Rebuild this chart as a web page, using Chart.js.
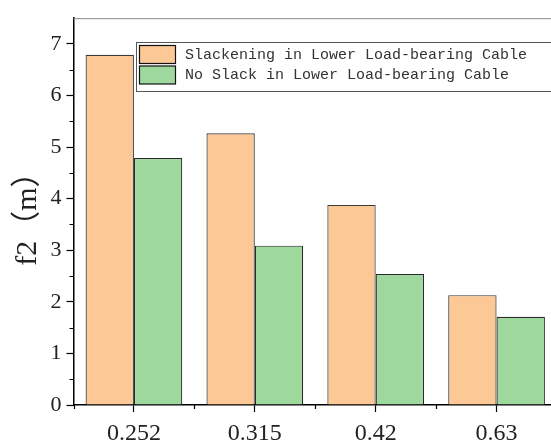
<!DOCTYPE html>
<html>
<head>
<meta charset="utf-8">
<script src="https://cdn.jsdelivr.net/npm/chart.js@4.4.0/dist/chart.umd.min.js"></script>
<style>
  html, body { margin: 0; padding: 0; background: #fff; overflow: hidden; }
  #wrap { width: 551px; height: 441px; overflow: hidden; }
</style>
</head>
<body>
<div id="wrap"><canvas id="myChart" width="557" height="441"></canvas></div>
<script>
const categories = ['0.252', '0.315', '0.42', '0.63'];
const slackValues = [6.79, 5.27, 3.88, 2.13];
const noSlackValues = [4.79, 3.09, 2.54, 1.71];
const seriesNames = ['Slackening in Lower Load-bearing Cable', 'No Slack in Lower Load-bearing Cable'];
const yTicks = [0, 1, 2, 3, 4, 5, 6, 7];

const serif = '"Liberation Serif", "Noto Sans CJK SC", serif';

// minor ticks, top frame line and the legend box inside the plot
const extras = {
  id: 'extras',
  afterDraw(chart) {
    const ctx = chart.ctx;
    const area = chart.chartArea;
    const x = chart.scales.x;
    const y = chart.scales.y;
    ctx.save();
    ctx.strokeStyle = '#000';
    ctx.lineWidth = 1.2;
    ctx.beginPath();
    for (let v = 0.5; v < 7.5; v += 1) {
      const py = Math.round(y.getPixelForValue(v)) + 0.5;
      ctx.moveTo(area.left - 4, py);
      ctx.lineTo(area.left, py);
    }
    for (let i = 0; i <= categories.length; i++) {
      const px = Math.round(x.getPixelForValue(i - 0.5)) + 0.5;
      ctx.moveTo(px, area.bottom);
      ctx.lineTo(px, area.bottom + 4);
    }
    ctx.stroke();

    ctx.strokeStyle = '#888';
    ctx.lineWidth = 1;
    ctx.beginPath();
    ctx.moveTo(area.left, area.top + 0.5);
    ctx.lineTo(area.right, area.top + 0.5);
    ctx.stroke();

    // legend
    const lx = 136.5, ly = 42.5;
    ctx.fillStyle = '#fff';
    ctx.fillRect(lx, ly, 430, 49);
    ctx.strokeStyle = '#555';
    ctx.strokeRect(lx, ly, 430, 49);
    chart.data.datasets.forEach((ds, i) => {
      const sy = 45.5 + i * 20.5;
      ctx.fillStyle = ds.backgroundColor;
      ctx.fillRect(139.5, sy, 36, 18);
      ctx.strokeStyle = '#111';
      ctx.lineWidth = 1.2;
      ctx.strokeRect(139.5, sy, 36, 18);
      ctx.fillStyle = '#333';
      ctx.font = '15px "Liberation Mono", monospace';
      ctx.textBaseline = 'middle';
      ctx.textAlign = 'left';
      ctx.fillText(ds.label, 185, sy + 9.5);
    });
    ctx.restore();
  }
};

new Chart(document.getElementById('myChart'), {
  type: 'bar',
  data: {
    labels: categories,
    datasets: [
      {
        label: seriesNames[0],
        data: slackValues,
        backgroundColor: '#FCC896',
        borderColor: '#3a3a3a',
        borderWidth: 1.2,
        borderSkipped: 'bottom'
      },
      {
        label: seriesNames[1],
        data: noSlackValues,
        backgroundColor: '#9FD89D',
        borderColor: '#2a2a2a',
        borderWidth: 1.2,
        borderSkipped: 'bottom'
      }
    ]
  },
  options: {
    responsive: false,
    animation: false,
    devicePixelRatio: 1,
    layout: { padding: { top: 15, right: 0, bottom: 0, left: 0 } },
    datasets: {
      bar: { barPercentage: 1.0, categoryPercentage: 0.8 }
    },
    plugins: {
      legend: { display: false },
      tooltip: { enabled: false }
    },
    scales: {
      x: {
        offset: true,
        grid: {
          offset: false,
          drawOnChartArea: false,
          drawTicks: true,
          tickLength: 7,
          tickColor: '#000',
          tickWidth: 1.2
        },
        border: { display: true, color: '#000', width: 1.5 },
        ticks: {
          color: '#222',
          padding: 7,
          maxRotation: 0,
          font: { family: serif, size: 24 }
        },
        afterFit(scale) { scale.height = 36; }
      },
      y: {
        min: 0,
        max: 7.5,
        ticks: {
          stepSize: 1,
          color: '#222',
          padding: 5,
          font: { family: serif, size: 22 }
        },
        afterBuildTicks(scale) {
          scale.ticks = yTicks.map(v => ({ value: v }));
        },
        grid: {
          drawOnChartArea: false,
          drawTicks: true,
          tickLength: 7,
          tickColor: '#000',
          tickWidth: 1.2
        },
        border: { display: true, color: '#000', width: 1.5 },
        title: {
          display: true,
          text: 'f2（m）',
          color: '#222',
          padding: { top: 10, bottom: 0 },
          font: { family: serif, size: 30, weight: 'normal' }
        },
        afterFit(scale) { scale.width = 73.5; }
      }
    }
  },
  plugins: [extras]
});
</script>
</body>
</html>
